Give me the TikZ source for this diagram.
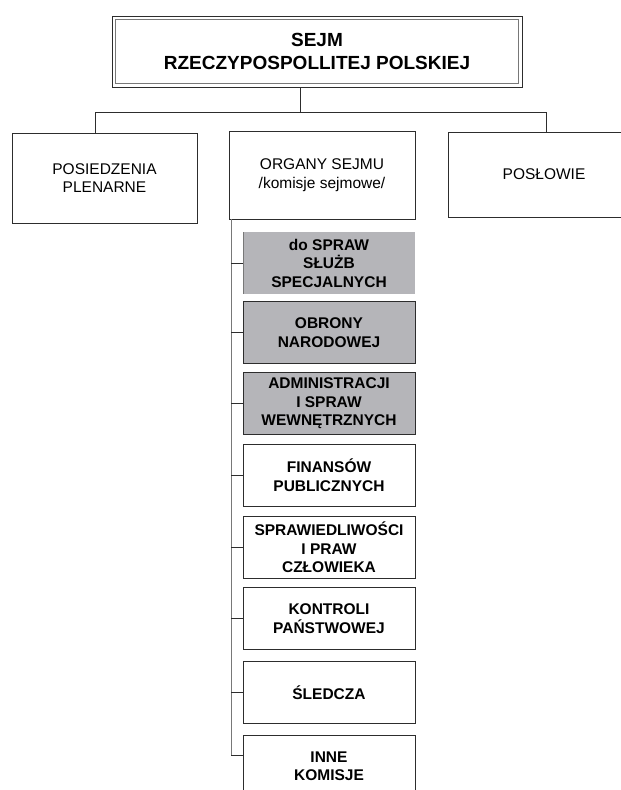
\documentclass[tikz,border=0pt]{standalone}
\usepackage{fontspec}
\setmainfont{Liberation Sans}
\usetikzlibrary{calc}
\definecolor{lineclr}{RGB}{45,45,45}
\definecolor{innerclr}{RGB}{120,120,120}
\definecolor{boxgray}{RGB}{181,181,185}
\begin{document}
\begin{tikzpicture}[x=1pt,y=-1pt,
  every node/.style={inner sep=0pt, outer sep=0pt, align=center},
  topbox/.style={draw=lineclr, line width=0.9pt, minimum width=410pt, minimum height=71pt,
    font=\fontsize{19}{23}\selectfont\bfseries},
  mainbox/.style={draw=lineclr, line width=0.8pt, font=\fontsize{15.5}{18.5}\selectfont},
  combox/.style={draw=lineclr, line width=0.8pt, minimum width=172pt, minimum height=62pt,
    font=\fontsize{15.5}{18.5}\selectfont\bfseries},
  graybox/.style={combox, fill=boxgray},
  conn/.style={draw=lineclr, line width=0.8pt}]
\path[use as bounding box, clip] (0,0) rectangle (621,790);
\fill[white] (0,0) rectangle (621,790);

% top
\node[topbox] (top) at (317,51.5) {SEJM\\RZECZYPOSPOLLITEJ POLSKIEJ};
\draw[innerclr, line width=0.8pt] ([shift={(3.5pt,-3.5pt)}]top.north west) rectangle ([shift={(-3.5pt,3.5pt)}]top.south east);

% second level
\node[mainbox, minimum width=185pt, minimum height=90pt] (left) at (104.5,178) {POSIEDZENIA\\PLENARNE};
\node[mainbox, minimum width=186pt, minimum height=88pt] (mid) at (322,175) {ORGANY SEJMU\\/komisje sejmowe/};
\node[mainbox, minimum width=192pt, minimum height=85pt, text width=192pt] (right) at (544,174.5) {POSŁOWIE};

\coordinate (hub) at (300,112);
\coordinate (lj) at (95,112);
\coordinate (rj) at (546,112);
\draw[conn] (top.south -| hub) -- (hub);
\draw[conn] (lj |- left.north) -- (lj) -- (rj) -- (rj |- right.north);

% committees
\node[combox, draw=none, fill=boxgray] (c1) at (329,263) {do SPRAW\\SŁUŻB\\SPECJALNYCH};
\draw[innerclr, line width=0.8pt] (c1.north west) -- (c1.south west);
\node[graybox] (c2) at (329,332.5) {OBRONY\\NARODOWEJ};
\node[graybox] (c3) at (329,403.5) {ADMINISTRACJI\\I SPRAW\\WEWNĘTRZNYCH};
\node[combox] (c4) at (329,475) {FINANSÓW\\PUBLICZNYCH};
\node[combox] (c5) at (329,547.5) {SPRAWIEDLIWOŚCI\\I PRAW\\CZŁOWIEKA};
\node[combox] (c6) at (329,618.5) {KONTROLI\\PAŃSTWOWEJ};
\node[combox] (c7) at (329,692.5) {ŚLEDCZA};
\node[combox] (c8) at (329,766) {INNE\\KOMISJE};

\coordinate (sp) at (231,0);
\coordinate (t8) at ($(c8.west)+(0,11pt)$);
\draw[conn, innerclr] (mid.south -| sp) -- (sp |- t8);
\foreach \c in {c1,c2,c3,c4,c5,c6,c7}
  \draw[conn] (sp |- \c.west) -- (\c.west);
\draw[conn] (sp |- t8) -- (t8);
\end{tikzpicture}
\end{document}
